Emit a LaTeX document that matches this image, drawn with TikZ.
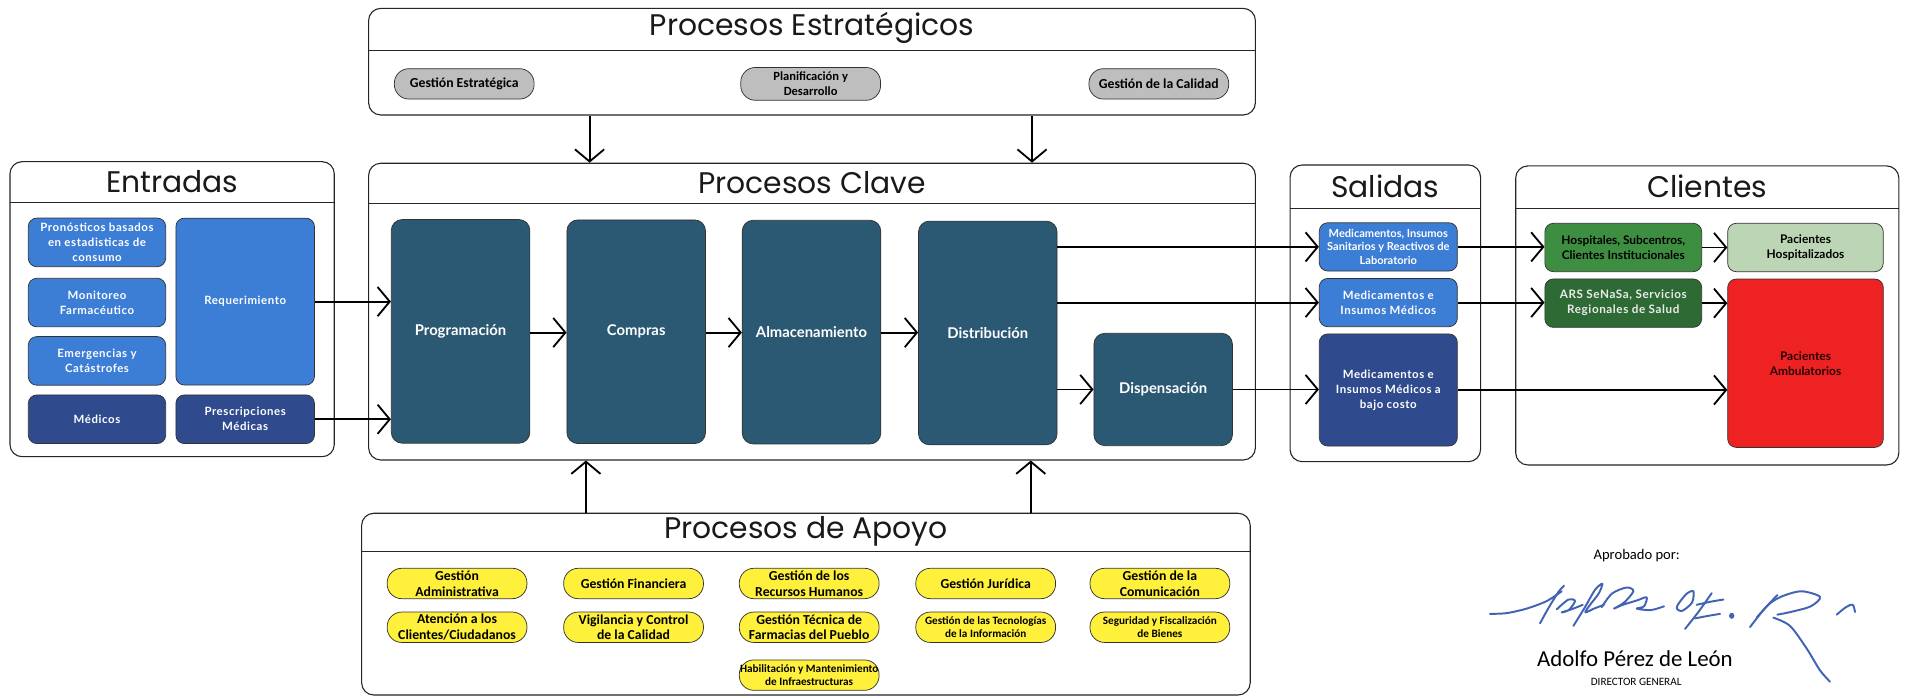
\documentclass[tikz,border=0pt]{standalone}
\usepackage{fontspec}
\setmainfont{Lato}
\newfontfamily\titlefont{Poppins}
\newfontfamily\condfont{Carlito}
\newfontfamily\spacedfont[LetterSpace=5]{Lato}
\usetikzlibrary{arrows.meta}
\definecolor{lblue}{HTML}{3C7DD6}
\definecolor{navy}{HTML}{2F4B8E}
\definecolor{tealbox}{HTML}{2B5873}
\definecolor{ovgrey}{HTML}{BEBEBE}
\definecolor{ovyellow}{HTML}{FFF03C}
\definecolor{hgreen}{HTML}{3E8E41}
\definecolor{dgreen}{HTML}{2E6B34}
\definecolor{lgreen}{HTML}{BCD5B4}
\definecolor{ambred}{HTML}{EE2222}
\definecolor{sigblue}{HTML}{4262B4}
\begin{document}
\begin{tikzpicture}[x=1pt,y=-1pt,
  cont/.style={draw=black!85, line width=0.9pt, rounded corners=10pt, inner sep=0pt},
  hdr/.style={draw=black!85, line width=0.9pt},
  ttl/.style={font=\titlefont\fontsize{24.5}{26}\selectfont, inner sep=0pt, text=black!90},
  ebox/.style={rounded corners=7pt, draw=black!80, line width=0.6pt, align=center, text=white,
     font=\spacedfont\bfseries\fontsize{9.4}{12.4}\selectfont, inner sep=1pt},
  kbox/.style={rounded corners=9pt, fill=tealbox, draw=black!80, line width=0.6pt, text=white,
     font=\bfseries\fontsize{12.2}{14}\selectfont, minimum width=114pt, minimum height=184pt, inner sep=1pt},
  oval/.style={rounded corners=12pt, draw=black!80, line width=0.6pt, align=center,
     font=\condfont\bfseries\fontsize{11.3}{13}\selectfont, minimum width=115pt, minimum height=25pt, inner sep=0pt},
  goval/.style={oval, fill=ovgrey},
  yoval/.style={oval, fill=ovyellow},
  small/.style={font=\condfont\bfseries\fontsize{9.2}{11}\selectfont},
  arr/.style={line width=1.6pt, -{Straight Barb[length=10pt,width=24pt,line width=1.5pt]}},
  sig/.style={draw=sigblue, line width=1.6pt, line cap=round, line join=round}
]
\useasboundingbox (0,0) rectangle (1568,574);
\fill[white] (0,0) rectangle (1568,574);

% ---------- containers ----------
\node[cont, minimum width=729.5pt, minimum height=87.7pt] (strat) at (668,50.75) {};
\draw[hdr] (303.3,41.7) -- (1032.8,41.7);
\node[ttl] (stratT) at (668,23) {Procesos Estratégicos};

\node[cont, minimum width=266.8pt, minimum height=242.7pt] (entr) at (141.6,254.35) {};
\draw[hdr] (8.2,166.5) -- (275,166.5);
\node[ttl] (entrT) at (141.6,149) {Entradas};

\node[cont, minimum width=729.5pt, minimum height=244.1pt] (clave) at (668,256.35) {};
\draw[hdr] (303.3,167.2) -- (1032.8,167.2);
\node[ttl] (claveT) at (668,150) {Procesos Clave};

\node[cont, minimum width=156.7pt, minimum height=244.1pt] (sal) at (1139.65,257.75) {};
\draw[hdr] (1061.3,171.4) -- (1218,171.4);
\node[ttl] (salT) at (1139.65,153) {Salidas};

\node[cont, minimum width=315.2pt, minimum height=246pt] (cli) at (1404.5,259.5) {};
\draw[hdr] (1246.9,171.4) -- (1562.1,171.4);
\node[ttl] (cliT) at (1404.5,153) {Clientes};

\node[cont, minimum width=731pt, minimum height=149.5pt] (apoyo) at (663,497) {};
\draw[hdr] (297.5,453.9) -- (1028.5,453.9);
\node[ttl] (apoyoT) at (663,437) {Procesos de Apoyo};

% ---------- strategic ovals ----------
\node[goval] (ge) at (381.9,69) {Gestión Estratégica};
\node[goval, minimum height=27pt, font=\condfont\bfseries\fontsize{10.3}{12.4}\selectfont] (pd) at (666.9,69) {Planificación y\\Desarrollo};
\node[goval] (gc) at (953.3,69) {Gestión de la Calidad};

% ---------- entradas ----------
\node[ebox, fill=lblue, minimum width=113pt, minimum height=40pt] (pron) at (79.8,199.4) {Pronósticos basados\\en estadisticas de\\consumo};
\node[ebox, fill=lblue, minimum width=113pt, minimum height=40pt] (moni) at (79.8,248.9) {Monitoreo\\Farmacéutico};
\node[ebox, fill=lblue, minimum width=113pt, minimum height=40pt] (emer) at (79.8,296.9) {Emergencias y\\Catástrofes};
\node[ebox, fill=navy, minimum width=113pt, minimum height=40pt] (medi) at (79.8,344.9) {Médicos};
\node[ebox, fill=lblue, minimum width=114pt, minimum height=137.3pt] (req) at (201.7,248.1) {Requerimiento};
\node[ebox, fill=navy, minimum width=114pt, minimum height=40pt] (presc) at (201.7,344.9) {Prescripciones\\Médicas};

% ---------- procesos clave ----------
\node[kbox] (prog) at (378.9,272.6) {Programación};
\node[kbox] (comp) at (523.4,272.9) {Compras};
\node[kbox] (alm) at (667.6,273.2) {Almacenamiento};
\node[kbox] (dist) at (812.6,273.9) {Distribución};
\node[kbox, minimum height=92.4pt] (disp) at (956.9,320.4) {Dispensación};

% ---------- salidas ----------
\node[ebox, fill=lblue, minimum width=113.6pt, minimum height=39.7pt, font=\bfseries\fontsize{9.1}{11.2}\selectfont] (medA) at (1142.1,203.1) {Medicamentos, Insumos\\Sanitarios y Reactivos de\\Laboratorio};
\node[ebox, fill=lblue, minimum width=113.6pt, minimum height=39.7pt] (medB) at (1142.1,248.9) {Medicamentos e\\Insumos Médicos};
\node[ebox, fill=navy, minimum width=113.6pt, minimum height=92.2pt] (medC) at (1142.1,320.8) {Medicamentos e\\Insumos Médicos a\\bajo costo};

% ---------- clientes ----------
\node[ebox, fill=hgreen, text=black, minimum width=129pt, minimum height=39.8pt, font=\bfseries\fontsize{9.8}{12.3}\selectfont] (hosp) at (1335.4,203.6) {Hospitales, Subcentros,\\Clientes Institucionales};
\node[ebox, fill=dgreen, text=black!8, minimum width=129pt, minimum height=39.8pt, font=\spacedfont\bfseries\fontsize{9.6}{12.3}\selectfont] (ars) at (1335.4,249.4) {ARS SeNaSa, Servicios\\Regionales de Salud};
\node[ebox, fill=lgreen, text=black, minimum width=128pt, minimum height=39.8pt, font=\bfseries\fontsize{9.8}{12.3}\selectfont] (phosp) at (1485.3,203.6) {Pacientes\\Hospitalizados};
\node[ebox, fill=ambred, text=black!85!red, minimum width=128pt, minimum height=138.5pt, font=\bfseries\fontsize{9.8}{12.3}\selectfont] (amb) at (1485.3,298.8) {Pacientes\\Ambulatorios};

% ---------- apoyo ovals ----------
\node[yoval] (y11) at (376,480) {Gestión\\Administrativa};
\node[yoval] (y12) at (521.2,480) {Gestión Financiera};
\node[yoval] (y13) at (665.7,480) {Gestión de los\\Recursos Humanos};
\node[yoval] (y14) at (810.9,480) {Gestión Jurídica};
\node[yoval] (y15) at (954.2,480) {Gestión de la\\Comunicación};
\node[yoval] (y21) at (376,516) {Atención a los\\Clientes/Ciudadanos};
\node[yoval] (y22) at (521.2,516) {Vigilancia y Control\\de la Calidad};
\node[yoval] (y23) at (665.7,516) {Gestión Técnica de\\Farmacias del Pueblo};
\node[yoval, small] (y24) at (810.9,516) {Gestión de las Tecnologías\\de la Información};
\node[yoval, small] (y25) at (954.2,516) {Seguridad y Fiscalización\\de Bienes};
\node[yoval, small] (y33) at (665.7,555.4) {Habilitación y Mantenimiento\\de Infraestructuras};

% ---------- connectors ----------
\coordinate (s1) at (485,0);
\coordinate (s2) at (849,0);
\coordinate (a1) at (482,0);
\coordinate (a2) at (848,0);
\draw[arr] (strat.south -| s1) -- (clave.north -| s1);
\draw[arr] (strat.south -| s2) -- (clave.north -| s2);
\draw[arr] (apoyo.north -| a1) -- (clave.south -| a1);
\draw[arr] (apoyo.north -| a2) -- (clave.south -| a2);

\draw[arr] (req.east) -- (req.east -| prog.west);
\draw[arr] (presc.east) -- (presc.east -| prog.west);
\draw[arr] (prog.east |- 0,273.6) -- (comp.west |- 0,273.6);
\draw[arr] (comp.east |- 0,273.6) -- (alm.west |- 0,273.6);
\draw[arr] (alm.east |- 0,273.6) -- (dist.west |- 0,273.6);
\draw[arr] (dist.east |- medA.west) -- (medA.west);
\draw[arr] (dist.east |- medB.west) -- (medB.west);
\draw[arr] (dist.east |- disp.west) -- (disp.west);
\draw[arr] (disp.east) -- (disp.east -| medC.west);
\draw[arr] (medA.east) -- (medA.east -| hosp.west);
\draw[arr] (medB.east) -- (medB.east -| ars.west);
\draw[arr] (hosp.east) -- (hosp.east -| phosp.west);
\draw[arr] (ars.east) -- (ars.east -| amb.west);
\draw[arr] (medC.east) -- (medC.east -| amb.west);

% ---------- approval ----------
\node[font=\condfont\fontsize{12}{14}\selectfont] (aprob) at (1346.5,457) {Aprobado por:};
\node[font=\condfont\fontsize{18.8}{21}\selectfont] (name) at (1345,541.5) {Adolfo Pérez de León};
\node[font=\condfont\fontsize{9.2}{11}\selectfont] (dir) at (1346,561) {DIRECTOR GENERAL};

\begin{scope}[shift={(1225.8pt,-474pt)}, x=0.2742pt, y=-0.31pt]
  \draw[sig] plot[smooth] coordinates {(0,100) (50,98) (110,86) (170,66) (215,40)};
  \draw[sig] plot[smooth] coordinates {(150,125) (175,85) (205,42) (222,25)};
  \draw[sig] plot[smooth] coordinates {(200,88) (235,62) (255,66) (236,90) (215,96) (250,86) (278,76)};
  \draw[sig] plot[smooth] coordinates {(250,132) (285,82) (315,36) (337,20) (326,46) (300,76) (286,96) (312,86) (342,76)};
  \draw[sig] plot[smooth] coordinates {(335,82) (366,46) (410,30) (430,40) (402,70) (372,86) (398,76) (442,64) (470,56) (462,80) (440,86) (482,90) (522,80)};
  \draw[sig] plot[smooth cycle] coordinates {(560,82) (588,48) (610,40) (606,70) (576,92)};
  \draw[sig] plot[smooth] coordinates {(585,140) (625,95) (665,45)};
  \draw[sig] plot[smooth] coordinates {(620,76) (660,68) (700,62)};
  \draw[sig] plot[smooth] coordinates {(615,112) (650,106) (690,100)};
  \fill[sigblue] (725,105) circle[radius=8];
  \draw[sig] plot[smooth] coordinates {(780,135) (820,90) (862,50)};
  \draw[sig] plot[smooth] coordinates {(800,110) (840,72) (880,52) (935,40) (990,55) (962,80) (902,95) (862,102)};
  \draw[sig] plot[smooth] coordinates {(850,110) (900,132) (950,192) (990,250) (1020,280)};
  \draw[sig] plot[smooth] coordinates {(1040,102) (1068,82) (1088,76) (1095,95)};
\end{scope}
\end{tikzpicture}
\end{document}
